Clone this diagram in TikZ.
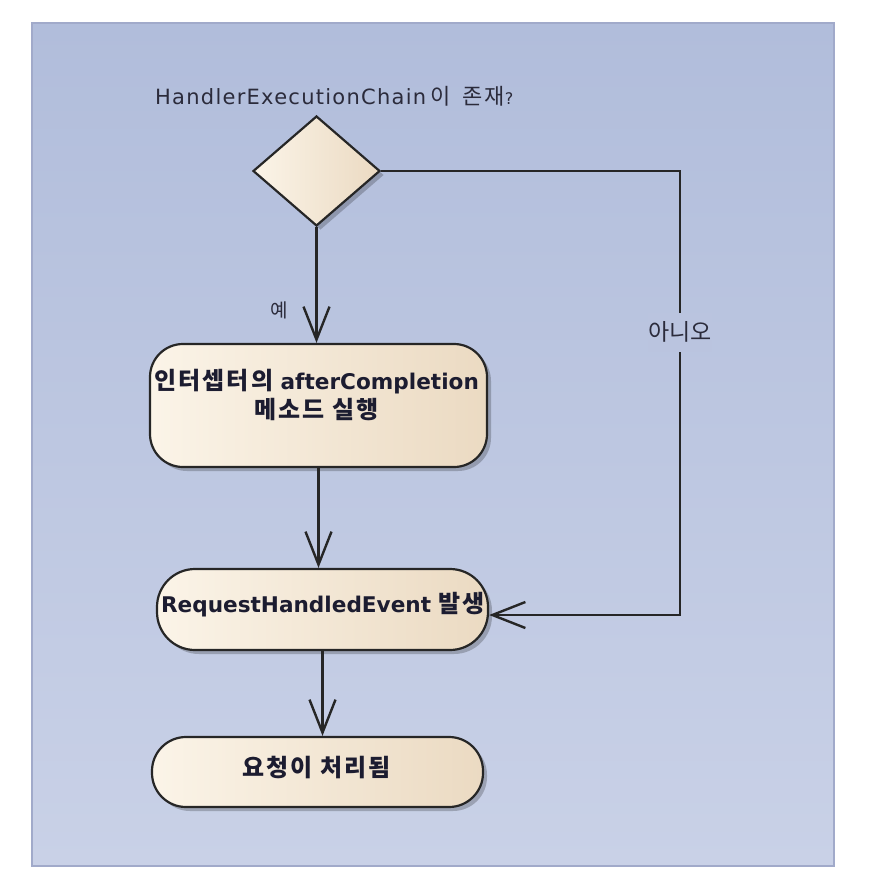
\documentclass[tikz,border=0pt]{standalone}
\usepackage{fontspec}
\setmainfont{DejaVu Sans}
\newfontfamily\kr{Noto Sans CJK KR}
\newfontfamily\krsp[LetterSpace=9]{Noto Sans CJK KR}
\newfontfamily\labfont[LetterSpace=6]{DejaVu Sans}
\usetikzlibrary{shapes.geometric,arrows.meta,shadows}
\definecolor{panTop}{HTML}{B1BDDB}
\definecolor{panBot}{HTML}{C9D1E7}
\definecolor{panMid}{RGB}{186,196,223}
\definecolor{panEdge}{HTML}{A1AACA}
\definecolor{boxL}{HTML}{FBF4E8}
\definecolor{boxR}{HTML}{EBDAC2}
\definecolor{edgeC}{HTML}{262626}
\definecolor{boxTxt}{HTML}{1C1C30}
\definecolor{labTxt}{HTML}{2B2B3B}
\newcommand\BK[1]{{\krsp\bfseries\fontsize{24}{30}\selectfont #1}}
\begin{document}
\begin{tikzpicture}[x=1pt,y=-1pt,
  shapebase/.style={draw=edgeC, line width=2.2pt, left color=boxL, right color=boxR,
    drop shadow={shadow xshift=4pt, shadow yshift=-4pt, opacity=0.22, fill=black}},
  actbox/.style={shapebase, inner sep=0pt},
  decision/.style={shapebase, diamond, inner sep=0pt, minimum width=127pt, minimum height=110pt},
  boxtext/.style={text=boxTxt, align=center, inner sep=0pt, font=\bfseries\fontsize{21.6}{29}\selectfont},
  flowlabel/.style={text=labTxt, inner sep=0pt},
  flow/.style={draw=edgeC, line width=2.4pt, -{Straight Barb[length=33pt,width=26pt]}}
]
\useasboundingbox (0,0) rectangle (890,890);
\fill[white] (0,0) rectangle (890,890);
% panel
\shade[top color=panTop, bottom color=panBot] (32,23) rectangle (834,866);
\draw[panEdge, line width=1.5pt] (32,23) rectangle (834,866);

% decision
\node[decision] (d) at (316.5,171) {};
\node[flowlabel, anchor=base west] (q) at (155,105)
  {\labfont\fontsize{21}{25}\selectfont HandlerExecutionChain\hspace{4pt}{\krsp\fontsize{22}{25}\selectfont 이\hspace{12pt}존재}{\fontsize{16}{20}\selectfont ?}};

% activities
\node[actbox, rounded corners=33pt, minimum width=337pt, minimum height=123pt] (b1) at (318.5,405.5) {};
\node[boxtext] (t1) at (316.5,395) {\BK{인터셉터의} afterCompletion\\\BK{메소드 실행}};

\node[actbox, rounded corners=38pt, minimum width=331pt, minimum height=81pt] (b2) at (322.5,609.5) {};
\node[boxtext] (t2) at (323,605) {RequestHandledEvent \BK{발생}};

\node[actbox, rounded corners=34pt, minimum width=331pt, minimum height=70pt] (b3) at (317.5,772) {};
\node[boxtext] (t3) at (316.5,768) {\BK{요청이 처리됨}};

% connectors
\coordinate (c1) at (680,171);
\coordinate (c2) at (680,615);
\draw[flow] (d.south) -- node[flowlabel, pos=0.72, left=27pt, font=\kr\fontsize{19}{22}\selectfont] (yes) {예} (d.south |- b1.north);
\draw[flow] (b1.south) -- (b1.south |- b2.north);
\draw[flow] (b2.south) -- (b2.south |- b3.north);
\draw[flow] (d.east) -- (c1) -- node[flowlabel, pos=0.363, fill=panMid, minimum height=39pt, font=\kr\fontsize{23}{26}\selectfont] (no) {아니오} (c2) -- (b2.east |- c2);
\end{tikzpicture}
\end{document}
